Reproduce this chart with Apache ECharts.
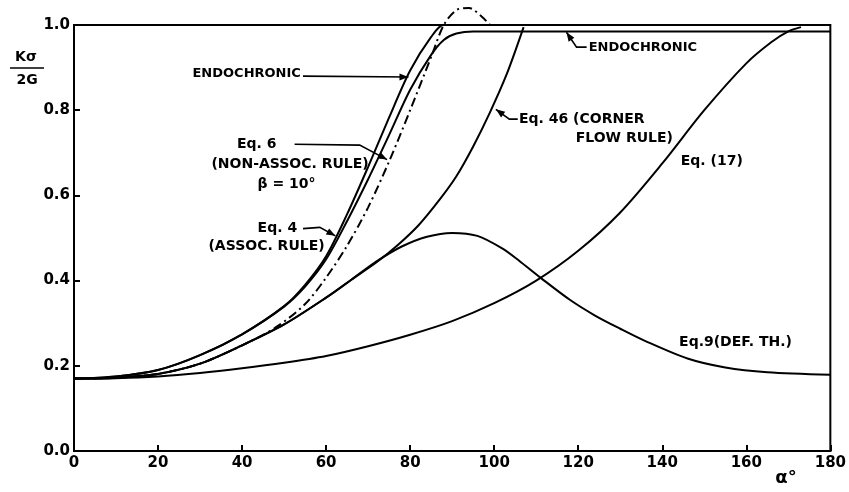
<!DOCTYPE html>
<html><head><meta charset="utf-8">
<script src="https://cdn.jsdelivr.net/npm/echarts@6/dist/echarts.min.js"></script>
<style>html,body{margin:0;padding:0;background:#fff}#c{width:849px;height:492px}</style>
</head><body><div id="c"></div>
<script>
// ---- data (alpha in degrees, K/2G) ----
var xTicks = [0, 20, 40, 60, 80, 100, 120, 140, 160, 180];
var yTicks = [0.0, 0.2, 0.4, 0.6, 0.8, 1.0];

var eq4X = [0, 10, 20, 30, 40, 50, 55, 60, 65, 70, 75, 80, 85, 88, 100, 180];
var eq4Y = [0.17, 0.175, 0.19, 0.225, 0.274, 0.34, 0.39, 0.457, 0.556, 0.667, 0.783, 0.893, 0.972, 1.0, 1.0, 1.0];

var endoX = [0, 10, 20, 30, 40, 50, 55, 60, 65, 70, 75, 80, 85, 88, 91, 95, 100, 180];
var endoY = [0.17, 0.175, 0.19, 0.225, 0.274, 0.339, 0.386, 0.45, 0.54, 0.638, 0.742, 0.848, 0.93, 0.965, 0.98, 0.985, 0.985, 0.985];

var eq6X = [0, 10, 20, 30, 40, 48, 55, 60, 65, 70, 75, 80, 85, 88, 91, 94, 97, 99];
var eq6Y = [0.17, 0.172, 0.181, 0.205, 0.248, 0.29, 0.345, 0.407, 0.482, 0.572, 0.68, 0.8, 0.925, 1.0, 1.035, 1.04, 1.02, 1.0];

var eq46X = [0, 10, 20, 30, 40, 50, 60, 66, 72, 77, 82, 87, 91, 95, 99, 103, 107];
var eq46Y = [0.17, 0.172, 0.181, 0.205, 0.248, 0.297, 0.36, 0.402, 0.443, 0.483, 0.53, 0.59, 0.645, 0.715, 0.795, 0.885, 0.995];

var eq9X = [0, 10, 20, 30, 40, 50, 60, 66, 72, 78, 84, 90, 96, 102, 106, 111, 118, 124, 130, 136, 146, 155, 165, 180];
var eq9Y = [0.17, 0.172, 0.181, 0.205, 0.248, 0.297, 0.36, 0.402, 0.445, 0.48, 0.503, 0.512, 0.505, 0.475, 0.446, 0.407, 0.355, 0.318, 0.287, 0.258, 0.217, 0.196, 0.185, 0.179];

var eq17X = [0, 10, 20, 30, 40, 50, 60, 70, 80, 90, 100, 110, 120, 130, 140, 150, 160, 166, 170, 173];
var eq17Y = [0.17, 0.171, 0.175, 0.183, 0.194, 0.207, 0.223, 0.246, 0.273, 0.305, 0.347, 0.4, 0.47, 0.56, 0.675, 0.8, 0.91, 0.96, 0.985, 0.995];

function pairs(xs, ys) { return xs.map(function (x, i) { return [x, ys[i]]; }); }

var FONT = 'DejaVu Sans';
var chart = echarts.init(document.getElementById('c'), null, {renderer: 'canvas'});

function curve(name, xs, ys, type) {
  return {
    name: name, type: 'line', data: pairs(xs, ys), smooth: 0.3,
    showSymbol: false, symbol: 'none', clip: false, silent: true,
    lineStyle: {color: '#000', width: 2, type: type || 'solid'}
  };
}

var option = {
  animation: false,
  backgroundColor: '#fff',
  grid: {left: 74, right: 16, top: 25, bottom: 41, show: true, borderColor: '#000', borderWidth: 2, backgroundColor: 'transparent'},
  xAxis: {
    type: 'value', min: 0, max: 180, interval: 20,
    axisLine: {lineStyle: {color: '#000', width: 2}},
    axisTick: {inside: true, length: 6, lineStyle: {color: '#000', width: 2}},
    splitLine: {show: false},
    axisLabel: {color: '#000', fontFamily: FONT, fontSize: 15, fontWeight: 'bold', margin: 5,
      formatter: function (v) { return xTicks.indexOf(v) >= 0 ? String(v) : ''; }}
  },
  yAxis: {
    type: 'value', min: 0, max: 1.0, interval: 0.2,
    axisLine: {lineStyle: {color: '#000', width: 2}},
    axisTick: {inside: true, length: 6, lineStyle: {color: '#000', width: 2}},
    splitLine: {show: false},
    axisLabel: {color: '#000', fontFamily: FONT, fontSize: 15, fontWeight: 'bold', margin: 4,
      formatter: function (v) { return v.toFixed(1); }}
  },
  series: [
    curve('Eq.4', eq4X, eq4Y),
    curve('Endochronic', endoX, endoY),
    curve('Eq.6', eq6X, eq6Y, [9, 4, 2, 4]),
    curve('Eq.46', eq46X, eq46Y),
    curve('Eq.9', eq9X, eq9Y),
    curve('Eq.17', eq17X, eq17Y)
  ]
};
chart.setOption(option);

// ---- annotations anchored in data coordinates ----
function P(a, v) { return chart.convertToPixel({gridIndex: 0}, [a, v]); }
function txt(a, v, s, size) {
  var p = P(a, v);
  return {type: 'text', x: p[0], y: p[1], silent: true,
    style: {text: s, fill: '#000', font: 'bold ' + (size || 13) + 'px "' + FONT + '"', textAlign: 'left', textVerticalAlign: 'middle'}};
}
function arrow(pts) {
  var px = pts.map(function (q) { return P(q[0], q[1]); });
  var n = px.length, a = px[n - 2], b = px[n - 1];
  var ang = Math.atan2(b[1] - a[1], b[0] - a[0]), L = 9, W = 3.5;
  var head = [b,
    [b[0] - L * Math.cos(ang) + W * Math.sin(ang), b[1] - L * Math.sin(ang) - W * Math.cos(ang)],
    [b[0] - L * Math.cos(ang) - W * Math.sin(ang), b[1] - L * Math.sin(ang) + W * Math.cos(ang)]];
  return [
    {type: 'polyline', silent: true, shape: {points: px}, style: {stroke: '#000', lineWidth: 1.6, fill: null}},
    {type: 'polygon', silent: true, shape: {points: head}, style: {fill: '#000'}}
  ];
}
var g = [];
g.push(txt(28.2, 0.885, 'ENDOCHRONIC'));
g = g.concat(arrow([[54.5, 0.88], [79.6, 0.878]]));
g.push(txt(38.8, 0.72, 'Eq. 6', 14));
g.push(txt(32.7, 0.673, '(NON-ASSOC. RULE)', 14));
g.push(txt(43.7, 0.626, 'β = 10°', 14));
g = g.concat(arrow([[52.5, 0.72], [68, 0.718], [74.5, 0.684]]));
g.push(txt(43.7, 0.522, 'Eq. 4', 14));
g.push(txt(32, 0.48, '(ASSOC. RULE)', 14));
g = g.concat(arrow([[54.5, 0.522], [58.5, 0.525], [62.2, 0.505]]));
g.push(txt(122.5, 0.948, 'ENDOCHRONIC'));
g = g.concat(arrow([[122, 0.948], [119.6, 0.948], [117.2, 0.983]]));
g.push(txt(105.9, 0.779, 'Eq. 46 (CORNER', 14));
g.push(txt(119.4, 0.735, 'FLOW RULE)', 14));
g = g.concat(arrow([[105.6, 0.779], [103.6, 0.779], [100.4, 0.802]]));
g.push(txt(144.4, 0.68, 'Eq. (17)', 14));
g.push(txt(144, 0.254, 'Eq.9(DEF. TH.)', 14));
// axis titles
g.push({type: 'text', x: 26, y: 57, silent: true, style: {text: 'Kσ', fill: '#000', font: 'bold 14px "' + FONT + '"', textAlign: 'center', textVerticalAlign: 'middle'}});
g.push({type: 'line', silent: true, shape: {x1: 10, y1: 68, x2: 44, y2: 68}, style: {stroke: '#000', lineWidth: 1.5}});
g.push({type: 'text', x: 27, y: 80, silent: true, style: {text: '2G', fill: '#000', font: 'bold 14px "' + FONT + '"', textAlign: 'center', textVerticalAlign: 'middle'}});
g.push({type: 'text', x: 786, y: 478, silent: true, style: {text: 'α°', fill: '#000', font: 'bold 18px "' + FONT + '"', textAlign: 'center', textVerticalAlign: 'middle'}});
chart.setOption({graphic: g});
</script></body></html>
